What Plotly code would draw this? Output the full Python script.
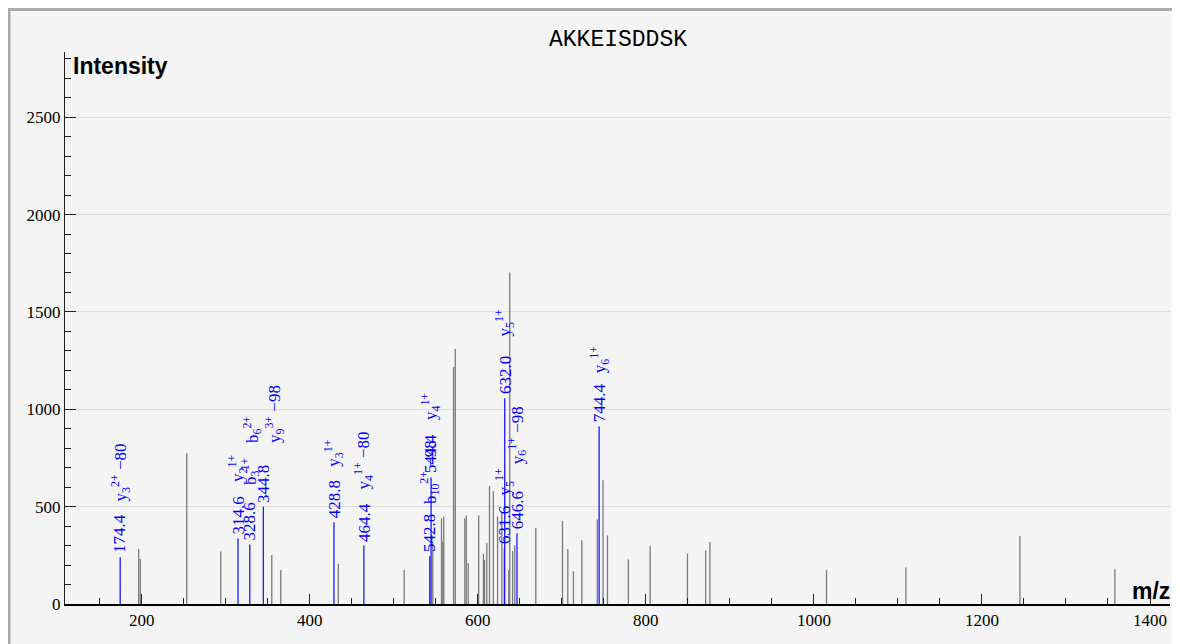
import plotly.graph_objects as go

# ---------------- data ----------------
title_text = "AKKEISDDSK"

# unannotated (grey) peaks
grey_mz = [196.4, 198.3, 253.6, 294.0, 354.8, 365.5, 434.0, 512.3, 546.4, 556.8,
           558.3, 559.5, 571.2, 573.2, 584.5, 586.3, 588.6, 601.0, 606.7, 608.0,
           610.7, 613.9, 618.5, 623.5, 628.6, 636.8, 638.0, 641.4, 644.0, 669.0,
           700.8, 707.1, 713.8, 723.8, 742.2, 749.0, 754.3, 779.2, 805.1, 849.5,
           871.2, 876.2, 1015.0, 1109.5, 1245.2, 1358.2]
grey_int = [282, 231, 774, 269, 252, 175, 207, 175, 320, 440,
            320, 450, 1217, 1310, 440, 455, 209, 455, 258, 226,
            314, 606, 580, 450, 470, 175, 1702, 272, 300, 390,
            426, 282, 169, 327, 434, 635, 352, 229, 296, 259,
            275, 318, 175, 188, 349, 178]

# annotated (blue) peaks
ann_mz = [174.4, 314.6, 328.6, 344.8, 428.8, 464.4, 542.8, 544.4, 631.6, 632.0, 646.6, 744.4]
ann_int = [240, 337, 305, 500, 420, 300, 245, 650, 290, 1057, 363, 911]
ann_num = ["174.4", "314.6", "328.6", "344.8", "428.8", "464.4",
           "542.8", "544.4", "631.6", "632.0", "646.6", "744.4"]
ann_ion = [
    "y<sub>3</sub><sup>2+</sup> −80",
    "y<sub>2</sub><sup>1+</sup>",
    "b<sub>3</sub><sup>1+</sup>",
    "b<sub>6</sub><sup>2+</sup><br>y<sub>9</sub><sup>3+</sup> −98",
    "y<sub>3</sub><sup>1+</sup>",
    "y<sub>4</sub><sup>1+</sup> −80",
    "b<sub>10</sub><sup>2+</sup> −98",
    "y<sub>4</sub><sup>1+</sup>",
    "y<sub>5</sub><sup>1+</sup>",
    "y<sub>5</sub><sup>1+</sup>",
    "y<sub>6</sub><sup>1+</sup> −98",
    "y<sub>6</sub><sup>1+</sup>",
]

x_range = [108.7, 1423.8]
y_range = [0, 2835]

# ---------------- label placement (pixels) ----------------
NUM_SHIFT = 2
ION_BASE = 54
ion_lift = [0, 0, 4, 8, 0, 0, -4, 1, -4, 6, 13, -3]

LABEL_FONT = dict(family="Liberation Serif", size=17, color="#0000ff")
TICK_FONT = dict(family="Liberation Serif", size=17, color="black")


def sticks(xs, ys):
    sx, sy = [], []
    for x, y in zip(xs, ys):
        sx += [x, x, None]
        sy += [0, y, None]
    return sx, sy


fig = go.Figure()
gx, gy = sticks(grey_mz, grey_int)
fig.add_trace(go.Scatter(x=gx, y=gy, mode="lines",
                         line=dict(color="#7a7a7a", width=1.3),
                         hoverinfo="skip"))
bx, by = sticks(ann_mz, ann_int)
fig.add_trace(go.Scatter(x=bx, y=by, mode="lines",
                         line=dict(color="#1a1aff", width=1.3),
                         hoverinfo="skip"))

annotations = []
for i, (mz, inten) in enumerate(zip(ann_mz, ann_int)):
    annotations.append(dict(x=mz, y=inten, xref="x", yref="y", text=ann_num[i],
                            textangle=-90, showarrow=False, xanchor="center",
                            yanchor="bottom", yshift=NUM_SHIFT, font=LABEL_FONT))
    annotations.append(dict(x=mz, y=inten, xref="x", yref="y", text=ann_ion[i],
                            textangle=-90, showarrow=False, xanchor="center",
                            yanchor="bottom", yshift=ION_BASE + ion_lift[i],
                            align="left", font=LABEL_FONT))

# the page body adds an 8px offset; figure fills the rest of the 1180x644 window
OFF = 8
W, H = 1180 - OFF, 644 - OFF
ML, MR, MT, MB = 65 - OFF, 10, 52 - OFF, 40
PW, PH = W - ML - MR, H - MT - MB


def px_to_paper(px, py):
    """page pixel -> paper coordinates"""
    fx, fy = px - OFF, py - OFF
    return (fx - ML) / PW, (H - MB - fy) / PH


tx, ty = px_to_paper(618, 40)
annotations.append(dict(x=tx, y=ty, xref="paper", yref="paper", text=title_text,
                        showarrow=False, xanchor="center", yanchor="middle",
                        font=dict(family="Liberation Mono", size=23, color="black")))
ix, iy = px_to_paper(71, 66)
annotations.append(dict(x=ix, y=iy, xref="paper", yref="paper", text="<b>Intensity</b>",
                        showarrow=False, xanchor="left", yanchor="middle",
                        font=dict(family="Liberation Sans", size=23, color="black")))
mx, my = px_to_paper(1172, 591)
annotations.append(dict(x=mx, y=my, xref="paper", yref="paper", text="<b>m/z</b>",
                        showarrow=False, xanchor="right", yanchor="middle",
                        font=dict(family="Liberation Sans", size=23, color="black")))

fx0, fy1 = px_to_paper(OFF + 1, OFF + 1.5)
fx1, fy0 = px_to_paper(1178, 700)

fig.update_layout(
    width=W, height=H,
    margin=dict(l=ML, r=MR, t=MT, b=MB, pad=0),
    paper_bgcolor="white",
    plot_bgcolor="#f4f4f4",
    showlegend=False,
    annotations=annotations,
    shapes=[dict(type="rect", xref="paper", yref="paper", x0=fx0, x1=fx1, y0=fy0, y1=fy1,
                 fillcolor="#f4f4f4", line=dict(color="#aaaaaa", width=3), layer="below")],
    xaxis=dict(range=x_range, tick0=0, dtick=200, ticks="inside", ticklen=10,
               tickwidth=1, tickcolor="#222", showline=True, linecolor="black",
               linewidth=1.5, showgrid=False, zeroline=False, tickfont=TICK_FONT,
               minor=dict(dtick=50, ticks="inside", ticklen=6, tickcolor="#222",
                          showgrid=False)),
    yaxis=dict(range=y_range, tick0=0, dtick=500, ticks="inside", ticklen=11,
               tickwidth=1, tickcolor="#222", showline=True, linecolor="#222",
               linewidth=1, showgrid=True, gridcolor="#dcdcdc", gridwidth=1,
               zeroline=False, tickfont=TICK_FONT,
               minor=dict(dtick=100, ticks="inside", ticklen=6, tickcolor="#222",
                          showgrid=False)),
)

fig.write_html("out.html")
